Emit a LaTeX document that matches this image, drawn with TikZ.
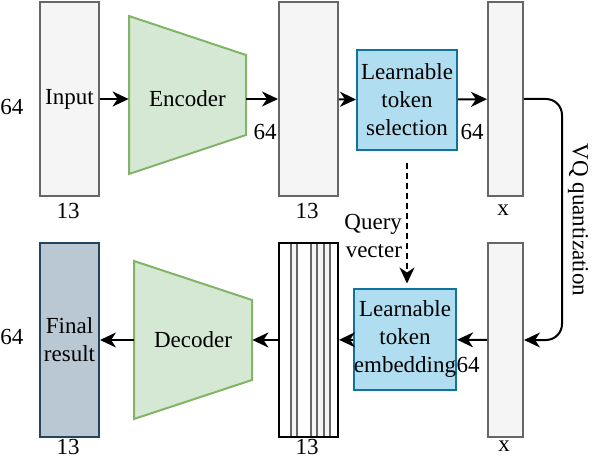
\documentclass[tikz,border=0pt]{standalone}
\usepackage{fontspec}
\setmainfont{Liberation Serif}
\usetikzlibrary{arrows.meta}
\definecolor{bargray}{HTML}{666666}
\definecolor{barfill}{HTML}{F5F5F5}
\definecolor{codeline}{HTML}{82B366}
\definecolor{codefill}{HTML}{D5E8D4}
\definecolor{tokenline}{HTML}{10739E}
\definecolor{tokenfill}{HTML}{B1DDF0}
\definecolor{finalline}{HTML}{23445D}
\definecolor{finalfill}{HTML}{BAC8D3}
\begin{document}
\begin{tikzpicture}[
            x=0.5pt, y=-0.5pt,
            font=\fontsize{11.5pt}{14pt}\selectfont,
            bar/.style={draw=bargray, fill=barfill, line width=1pt, inner sep=0pt,
                    minimum width=29.5pt, minimum height=97pt, align=center},
            slim/.style={bar, minimum width=17.5pt},
            token/.style={draw=tokenline, fill=tokenfill, line width=1pt, inner sep=0pt,
                    minimum width=50pt, minimum height=50pt, align=center},
            coder/.style={draw=codeline, fill=codefill, line width=1pt},
            size/.style={inner sep=1pt},
            flow/.style={-{Stealth[length=8pt, width=7.5pt, inset=2.5pt]}, line width=1pt},
            query/.style={flow, dash pattern=on 3pt off 2pt}
        ]
        \useasboundingbox (0, 0) rectangle (592, 458);

        % encoder row
        \node[bar] (in) at (69.5, 99) {Input};
        \node[size] (in-h) at (12, 107) {64};
        \node[size] (in-w) at (68, 211) {13};

        \draw[coder] (129, 16) -- (246, 55) -- (246, 135) -- (129, 174) -- cycle;
        \node[minimum width=58.5pt, inner sep=0pt] (enc) at (187.5, 99) {Encoder};
        \node[size] (enc-h) at (265, 132) {64};

        \node[bar] (feat) at (308.5, 99) {};
        \node[size] (feat-w) at (307, 211) {13};

        \node[token] (lts) at (407, 100) {Learnable\\token\\selection};
        \node[size] (lts-h) at (472, 132) {64};

        \node[slim] (xt) at (505.5, 99) {};
        \node[size] (xt-w) at (503, 210) {x};

        \draw[flow] (in) -- (enc);
        \draw[flow] (enc) -- (feat);
        \draw[flow] (feat) -- (lts);
        \draw[flow] (lts) -- (xt);

        % decoder row
        \node[slim] (xb) at (505.5, 340) {};
        \node[size] (xb-w) at (504, 446) {x};

        \node[token] (lte) at (405, 339.5) {Learnable\\token\\embedding};
        \node[size] (lte-h) at (468, 365) {64};

        \foreach \a/\b in {291/297, 311/317, 317/324, 324/330} {
                \draw[draw=bargray, fill=barfill, line width=1pt] (\a, 243) rectangle (\b, 437);
            }
        \node[draw, line width=1pt, minimum width=29.5pt, minimum height=97pt] (emb) at (308.5, 340) {};
        \node[size] (emb-w) at (307, 447) {13};

        \draw[coder] (134, 261) -- (252, 300) -- (252, 380) -- (134, 419) -- cycle;
        \node[minimum width=59pt, inner sep=0pt] (dec) at (193, 340) {Decoder};

        \node[bar, draw=finalline, fill=finalfill] (out) at (69.5, 340) {Final\\result};
        \node[size] (out-h) at (12, 337) {64};
        \node[size] (out-w) at (68, 447) {13};

        \draw[flow] (xb) -- (lte);
        \draw[flow] (lte) -- (emb);
        \draw[flow] (emb) -- (dec);
        \draw[flow] (dec) -- (out);

        % VQ quantization
        \coordinate (vq) at (562, 220);
        \draw[flow, rounded corners=8pt] (xt.east) -| (vq) |- (xb.east);
        \node[rotate=-90] (vq-lab) at (578, 220) {VQ quantization};

        % query vector
        \draw[query] ([yshift=-6pt]lts.south) -- ([yshift=2.5pt]lts.south |- lte.north);
        \node[anchor=east, align=right] (qv) at (409, 236) {Query\\vecter};
    \end{tikzpicture}
\end{document}
